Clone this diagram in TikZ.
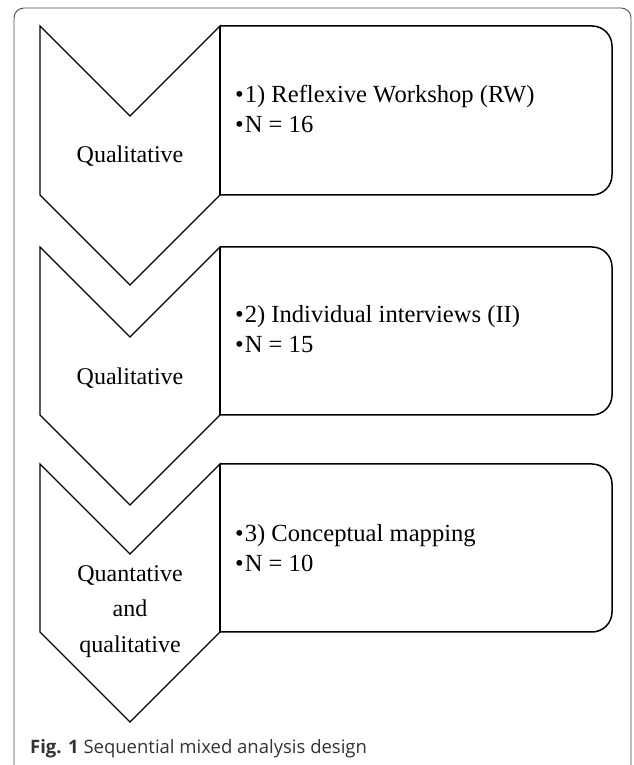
\documentclass[tikz,border=0pt]{standalone}
\usepackage{fontspec}
\setmainfont{Liberation Serif}
\newfontfamily\capfont{Open Sans}
\tikzset{
  chev/.style={draw=black, line width=1.2pt, fill=white, line join=miter},
  stagebox/.style={draw=black, line width=1.5pt},
  frame/.style={draw=black!70, line width=0.9pt, rounded corners=10pt},
  lbl/.style={font=\fontsize{24}{35}\selectfont, anchor=base, inner sep=0pt, align=center},
  item/.style={font=\fontsize{24.6}{30}\selectfont, anchor=base west, inner sep=0pt},
  captext/.style={font=\capfont\fontsize{18.5}{22}\selectfont, anchor=base west, inner sep=0pt, text=black!80}
}
\begin{document}
\begin{tikzpicture}[x=1pt,y=1pt]
\useasboundingbox (0,0) rectangle (633,765);
\begin{scope}
\clip (0,0) rectangle (633,765);
\draw[frame] (14,-10) rectangle (631,757);
\end{scope}
% chevrons
\draw[chev] (40,739) -- (130,649) -- (220,739) -- (220,570) -- (130,480) -- (40,570) -- cycle;
\draw[chev] (40,518) -- (130,428) -- (220,518) -- (220,350) -- (130,260) -- (40,350) -- cycle;
\draw[chev] (40,301) -- (130,211) -- (220,301) -- (220,133) -- (130,43) -- (40,133) -- cycle;
% boxes
\draw[stagebox] (220,739) -- (592,739) arc[start angle=90, end angle=0, radius=20pt] -- (612,590) arc[start angle=0, end angle=-90, radius=20pt] -- (220,570);
\draw[stagebox] (220,518) -- (592,518) arc[start angle=90, end angle=0, radius=20pt] -- (612,370) arc[start angle=0, end angle=-90, radius=20pt] -- (220,350);
\draw[stagebox] (220,301) -- (592,301) arc[start angle=90, end angle=0, radius=20pt] -- (612,153) arc[start angle=0, end angle=-90, radius=20pt] -- (220,133);
\draw[stagebox] (220,739) -- (220,570);
\draw[stagebox] (220,518) -- (220,350);
\draw[stagebox] (220,301) -- (220,133);
% chevron labels
\node[lbl] (q1) at (130,602) {Qualitative};
\node[lbl] (q2) at (130,380) {Qualitative};
\node[lbl] (q3a) at (130,183) {Quantative};
\node[lbl] (q3b) at (130,148) {and};
\node[lbl] (q3c) at (130,112) {qualitative};
% box items
\node[item] (b1a) at (235,662) {•\kern1pt1) Reflexive Workshop (RW)};
\node[item] (b1b) at (235,632) {•\kern1pt N = 16};
\node[item] (b2a) at (235,442) {•\kern1pt2) Individual interviews (II)};
\node[item] (b2b) at (235,412) {•\kern1pt N = 15};
\node[item] (b3a) at (235,223) {•\kern1pt3) Conceptual mapping};
\node[item] (b3b) at (235,193) {•\kern1pt N = 10};
% caption
\node[captext] (caption) at (30,11) {\textbf{Fig. 1} Sequential mixed analysis design};
\end{tikzpicture}
\end{document}
